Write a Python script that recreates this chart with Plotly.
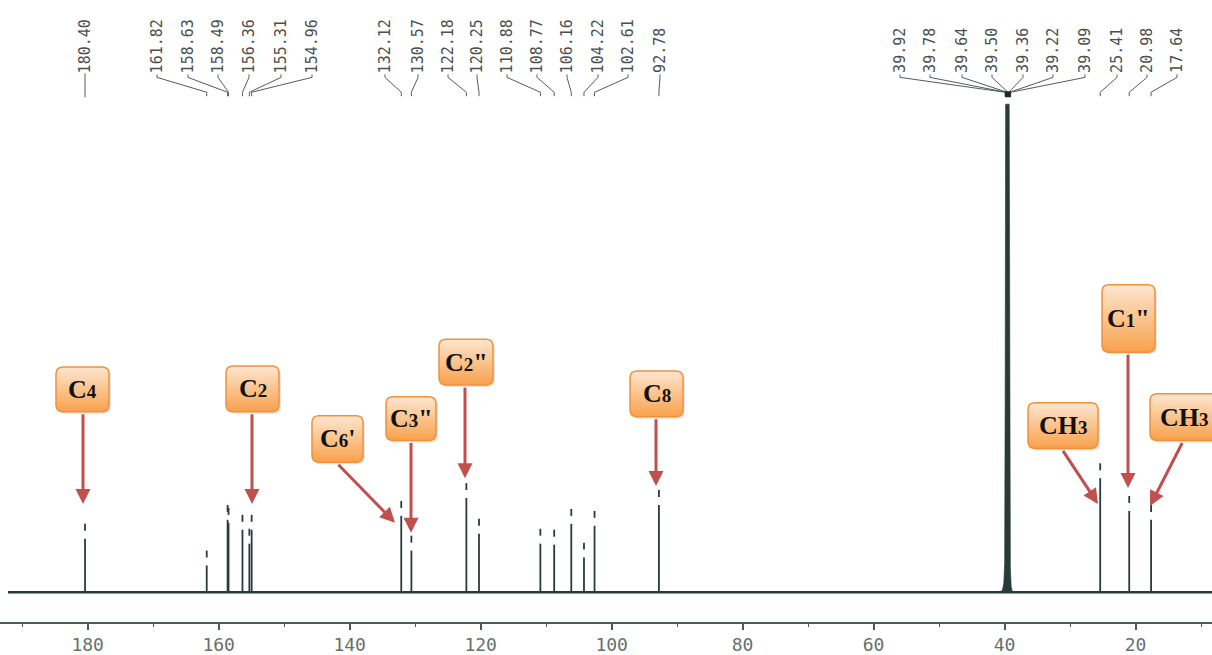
import numpy as np
import plotly.graph_objects as go

# ---------------- data ----------------
# 13C NMR peaks: chemical shift (ppm) and peak top height (px above baseline, as read)
peak_ppm = [180.40, 161.82, 158.63, 158.49, 156.36, 155.31, 154.96, 132.12, 130.57,
            122.18, 120.25, 110.88, 108.77, 106.16, 104.22, 102.61, 92.78,
            25.41, 20.98, 17.64]
peak_height = [69, 42, 88, 85, 78, 64, 78, 92, 57,
               110, 74, 64, 63, 84, 50, 82, 103,
               130, 97, 88]

# DMSO-d6 solvent multiplet outline (ppm, height)
solvent_ppm = [40.6, 40.3, 40.12, 40.0, 39.92, 39.85, 39.3, 39.22, 39.12, 39.0, 38.8]
solvent_height = [0, 3, 10, 30, 200, 492, 492, 200, 25, 6, 0]

# printed peak-list labels
label_values = ["180.40", "161.82", "158.63", "158.49", "156.36", "155.31", "154.96",
                "132.12", "130.57", "122.18", "120.25", "110.88", "108.77", "106.16",
                "104.22", "102.61", "92.78",
                "39.92", "39.78", "39.64", "39.50", "39.36", "39.22", "39.09",
                "25.41", "20.98", "17.64"]

# axis tick labels
tick_values = [180, 160, 140, 120, 100, 80, 60, 40, 20]
tick_labels = ["180", "160", "140", "120", "100", "80", "60", "40", "20"]

# assignment labels
assign_labels = ["C4", "C2", "C6'", 'C3"', 'C2"', "C8", 'C1"', "CH3", "CH3"]
assign_ppm = [180.40, 154.96, 132.12, 130.57, 122.18, 92.78, 20.98, 25.41, 17.64]

# ---------------- layout geometry (pixels) ----------------
W, H = 1212, 655
PPM_LEFT, PPM_RIGHT = 193.38, 8.34
BASE_PX = 597          # baseline pixel row
AXIS_PX = 627          # x axis line pixel row


def px2ppm(x):
    return PPM_LEFT - x * (PPM_LEFT - PPM_RIGHT) / W


def py2h(y):
    return BASE_PX - y


label_px = [85, 157, 188, 218, 249, 281, 312,
            385, 418, 448, 477, 507, 537, 567, 598, 628, 660,
            900, 930, 962, 992, 1023, 1053, 1085,
            1117, 1147, 1177]

# boxes: x0, y0, x1, y1 (px)
boxes = [(56, 370, 109, 415), (226, 369, 279, 415), (312, 419, 363, 466),
         (386, 400, 436, 444), (439, 342, 493, 388), (630, 374, 683, 420),
         (1102, 287, 1155, 355), (1028, 406, 1098, 452), (1150, 397, 1218, 444)]
# arrows: tail (x, y) -> tip (x, y) in px
arrows = [((83, 416), (83, 508)), ((252, 416), (252, 508)), ((337, 467), (395, 527)),
          ((411, 445), (411, 537)), ((465, 389), (465, 482)), ((656, 421), (656, 490)),
          ((1128, 356), (1128, 492)), ((1062, 453), (1098, 508)), ((1183, 445), (1150, 510))]

SPEC = "#283b38"
LABEL_C = "#4a504f"
ARROW_C = "#c0504d"

fig = go.Figure()

# baseline
fig.add_trace(go.Scatter(x=[px2ppm(8), PPM_RIGHT], y=[0, 0], mode="lines",
                         line=dict(color=SPEC, width=2.6), hoverinfo="skip"))

# peaks: solid stem + small detached top segment
xs, ys = [], []
for p, h in zip(peak_ppm, peak_height):
    xs += [p, p, None, p, p, None]
    ys += [0, h - 15, None, h - 7, h, None]
fig.add_trace(go.Scatter(x=xs, y=ys, mode="lines", line=dict(color=SPEC, width=1.8),
                         hoverinfo="skip"))

# solvent peak
fig.add_trace(go.Scatter(x=solvent_ppm, y=solvent_height, mode="lines", fill="toself",
                         fillcolor=SPEC, line=dict(color=SPEC, width=0.6), hoverinfo="skip"))

# leader lines from printed labels to peaks
lx, ly = [], []
for lab, xpx in zip(label_values, label_px):
    target = float(lab)
    if lab == "180.40":
        lx += [px2ppm(xpx), target, None]
        ly += [py2h(74), py2h(98), None]
    else:
        lx += [px2ppm(xpx), px2ppm(xpx), target, target, None]
        ly += [py2h(75), py2h(78), py2h(93), py2h(97), None]
fig.add_trace(go.Scatter(x=lx, y=ly, mode="lines", line=dict(color="#555c5a", width=1),
                         hoverinfo="skip"))

# convergence square of solvent labels
fig.add_trace(go.Scatter(x=[39.5], y=[py2h(95)], mode="markers",
                         marker=dict(symbol="square", size=6, color="#1e2b29"),
                         hoverinfo="skip"))

annotations = []
for lab, xpx in zip(label_values, label_px):
    annotations.append(dict(x=px2ppm(xpx), y=py2h(75), xref="x", yref="y", text=lab,
                            textangle=-90, showarrow=False, xanchor="center",
                            yanchor="bottom", borderpad=0,
                            font=dict(family="DejaVu Sans Mono", size=15, color=LABEL_C)))


def rounded_rect(x0, y0, x1, y1, r=6, n=6):
    pts = []
    corners = [(x1 - r, y0 + r, -90, 0), (x1 - r, y1 - r, 0, 90),
               (x0 + r, y1 - r, 90, 180), (x0 + r, y0 + r, 180, 270)]
    for cx, cy, a0, a1 in corners:
        for a in np.linspace(np.radians(a0), np.radians(a1), n):
            pts.append((cx + r * np.cos(a), cy + r * np.sin(a)))
    pts.append(pts[0])
    return [px2ppm(p[0]) for p in pts], [py2h(p[1]) for p in pts]


for lab, (x0, y0, x1, y1) in zip(assign_labels, boxes):
    sx, sy = rounded_rect(x0 + 2, y0 + 2, x1 + 2, y1 + 2)
    fig.add_trace(go.Scatter(x=sx, y=sy, mode="lines", fill="toself",
                             fillcolor="rgba(0,0,0,0.10)", line=dict(width=0),
                             hoverinfo="skip"))
    bx, by = rounded_rect(x0, y0, x1, y1)
    fig.add_trace(go.Scatter(x=bx, y=by, mode="lines", fill="toself",
                             fillgradient=dict(type="vertical",
                                               colorscale=[[0, "#f8a14c"], [0.55, "#fbc793"],
                                                           [1, "#fde6d1"]]),
                             line=dict(color="#f0913c", width=1.5), hoverinfo="skip"))
    if lab.startswith("CH"):
        txt = "<b>CH<span style='font-size:19px'>3</span></b>"
    else:
        txt = "<b>C<span style='font-size:19px'>" + lab[1] + "</span>" + lab[2:] + "</b>"
    annotations.append(dict(x=px2ppm((x0 + x1) / 2), y=py2h((y0 + y1) / 2), xref="x", yref="y",
                            text=txt, showarrow=False, xanchor="center", yanchor="middle",
                            font=dict(family="Liberation Serif", size=26, color="#111111")))

for (tail, tip) in arrows:
    annotations.append(dict(x=px2ppm(tip[0]), y=py2h(tip[1]), ax=px2ppm(tail[0]),
                            ay=py2h(tail[1]), xref="x", yref="y", axref="x", ayref="y",
                            text="", showarrow=True, arrowhead=2, arrowsize=1,
                            arrowwidth=3, arrowcolor=ARROW_C, standoff=0))

AX_C = "#4a5a57"
fig.update_layout(
    width=W, height=H, margin=dict(l=0, r=0, t=0, b=H - AXIS_PX),
    paper_bgcolor="white", plot_bgcolor="white", showlegend=False,
    annotations=annotations,
    xaxis=dict(range=[PPM_LEFT, PPM_RIGHT], showgrid=False, zeroline=False,
               showline=True, linecolor=AX_C, linewidth=1.5,
               tickmode="array", tickvals=tick_values, ticktext=tick_labels,
               ticks="outside", ticklen=6, tickwidth=1.5, tickcolor=AX_C,
               tickfont=dict(family="DejaVu Sans Mono", size=18, color="#66706e"),
               minor=dict(tickmode="linear", tick0=0, dtick=10, ticks="outside",
                          ticklen=3, tickwidth=1.2, tickcolor=AX_C)),
    yaxis=dict(range=[BASE_PX - AXIS_PX, BASE_PX], visible=False, fixedrange=True),
)

fig.write_html("out.html", config={"displayModeBar": False},
               post_script="document.body.style.margin='0';document.body.style.overflow='hidden';")
